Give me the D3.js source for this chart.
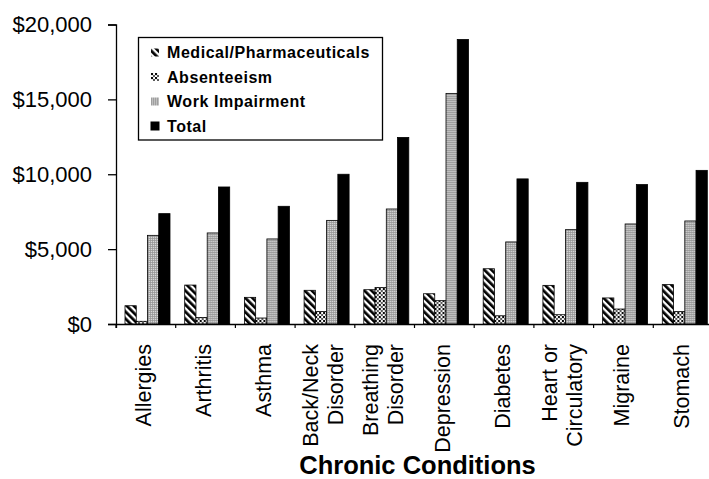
<!DOCTYPE html>
<html>
<head>
<meta charset="utf-8">
<script src="https://cdn.jsdelivr.net/npm/d3@7/dist/d3.min.js"></script>
<style>
  html, body { margin: 0; padding: 0; background: #fff; }
  svg { display: block; }
  text { font-family: "Liberation Sans", Arial, sans-serif; fill: #000; }
</style>
</head>
<body>
<svg id="chart" width="709" height="479"></svg>
<script>
// ---- data ----
const categories = ["Allergies", "Arthritis", "Asthma", "Back/Neck Disorder", "Breathing Disorder",
  "Depression", "Diabetes", "Heart or Circulatory", "Migraine", "Stomach"];
const categoryLines = [["Allergies"], ["Arthritis"], ["Asthma"], ["Back/Neck", "Disorder"], ["Breathing", "Disorder"],
  ["Depression"], ["Diabetes"], ["Heart or", "Circulatory"], ["Migraine"], ["Stomach"]];
const seriesNames = ["Medical/Pharmaceuticals", "Absenteeism", "Work Impairment", "Total"];
const medical     = [1220, 2600, 1780, 2250, 2290, 2020, 3690, 2580, 1740, 2630];
const absenteeism = [180, 440, 400, 840, 2440, 1560, 550, 620, 1000, 840];
const workImpair  = [5920, 6080, 5680, 6920, 7680, 15400, 5480, 6300, 6680, 6880];
const total       = [7370, 9150, 7860, 10000, 12460, 19000, 9690, 9460, 9310, 10260];
const yTicks = [0, 5000, 10000, 15000, 20000];
const xTitle = "Chronic Conditions";

const seriesValues = [medical, absenteeism, workImpair, total];

// ---- layout ----
const svg = d3.select("#chart");
const plotLeft = 116, plotBottom = 324, plotTop = 24.5, step = 59.7;

const x0 = d3.scaleBand().domain(categories).range([plotLeft, plotLeft + step * categories.length]).padding(0);
const x1 = d3.scaleBand().domain(seriesNames).range([9, 54]).padding(0);
const y = d3.scaleLinear().domain([0, 20000]).range([plotBottom, plotTop]);

// ---- patterns ----
const defs = svg.append("defs");
const pStripe = defs.append("pattern").attr("id", "pStripe").attr("patternUnits", "userSpaceOnUse")
  .attr("width", 5).attr("height", 5).attr("patternTransform", "rotate(-45)");
pStripe.append("rect").attr("width", 5).attr("height", 5).attr("fill", "#fff");
pStripe.append("rect").attr("width", 2.7).attr("height", 5).attr("fill", "#000");

const pDots = defs.append("pattern").attr("id", "pDots").attr("patternUnits", "userSpaceOnUse")
  .attr("width", 4).attr("height", 4);
pDots.append("rect").attr("width", 4).attr("height", 4).attr("fill", "#fff");
pDots.append("circle").attr("cx", 1).attr("cy", 1).attr("r", 1.2).attr("fill", "#000");
pDots.append("circle").attr("cx", 3).attr("cy", 3).attr("r", 1.0).attr("fill", "#222");

const pGrid = defs.append("pattern").attr("id", "pGrid").attr("patternUnits", "userSpaceOnUse")
  .attr("width", 2).attr("height", 2);
pGrid.append("rect").attr("width", 2).attr("height", 2).attr("fill", "#d8d8d8");
pGrid.append("rect").attr("width", 2).attr("height", 0.7).attr("fill", "#909090");
pGrid.append("rect").attr("width", 0.7).attr("height", 2).attr("fill", "#909090");

const fills = ["url(#pStripe)", "url(#pDots)", "url(#pGrid)", "#000"];

// ---- bars ----
const groups = svg.append("g").selectAll("g").data(categories).join("g")
  .attr("transform", d => `translate(${x0(d)},0)`);
groups.selectAll("rect").data((c, i) => seriesNames.map((s, j) => ({ s, j, v: seriesValues[j][i] })))
  .join("rect")
  .attr("x", d => x1(d.s))
  .attr("width", x1.bandwidth())
  .attr("y", d => y(d.v))
  .attr("height", d => y(0) - y(d.v))
  .attr("fill", d => fills[d.j])
  .attr("stroke", "#000").attr("stroke-width", 0.8);

// ---- axes ----
const yAxis = svg.append("g").attr("transform", `translate(${plotLeft},0)`)
  .call(d3.axisLeft(y).tickValues(yTicks).tickSize(8).tickPadding(16)
    .tickFormat(d => "$" + d3.format(",")(d)));
yAxis.select(".domain").attr("stroke", "#000").attr("stroke-width", 1.3);
yAxis.selectAll(".tick line").attr("stroke", "#000").attr("stroke-width", 1.3);
yAxis.selectAll("text").attr("font-size", 22).attr("font-family", "Liberation Sans, Arial, sans-serif").attr("fill", "#000");

const xAxis = svg.append("g").attr("transform", `translate(0,${plotBottom})`)
  .call(d3.axisBottom(x0).tickValues(categories).tickSize(4).tickFormat(""));
xAxis.select(".domain").attr("stroke", "#000").attr("stroke-width", 1.3);
// move ticks to band boundaries
xAxis.selectAll(".tick").attr("transform", d => `translate(${x0(d)},0)`);
xAxis.selectAll(".tick line").attr("stroke", "#000").attr("stroke-width", 1.2);

// category labels (rotated)
const labels = svg.append("g").selectAll("text").data(categories).join("text")
  .attr("transform", d => `translate(${x0(d) + x0.bandwidth() / 2 - 2},344) rotate(-90)`)
  .attr("text-anchor", "end")
  .attr("font-size", 21.5);
labels.each(function (d, i) {
  const lines = categoryLines[i];
  const n = lines.length;
  d3.select(this).selectAll("tspan").data(lines).join("tspan")
    .attr("x", 0)
    .attr("y", (l, k) => (k - (n - 1) / 2) * 25)
    .attr("dy", "0.35em")
    .text(l => l);
});

// x title
svg.append("text").attr("x", 417.5).attr("y", 473.5).attr("text-anchor", "middle")
  .attr("font-size", 25.5).attr("font-weight", "bold").text(xTitle);

// ---- legend ----
const legend = svg.append("g");
legend.append("rect").attr("x", 138.5).attr("y", 37.5).attr("width", 244).attr("height", 102.5)
  .attr("fill", "#fff").attr("stroke", "#000").attr("stroke-width", 1.3);
const items = legend.selectAll("g.item").data(seriesNames).join("g").attr("class", "item")
  .attr("transform", (d, i) => `translate(151,${52.5 + i * 24.5})`);
items.append("rect").attr("x", 0).attr("y", -4).attr("width", 8).attr("height", 8)
  .attr("fill", (d, i) => fills[i]).attr("stroke", (d, i) => i === 3 ? "#000" : "none");
items.append("text").attr("x", 16).attr("dy", "0.36em").attr("font-size", 16).attr("font-weight", "bold")
  .attr("letter-spacing", 0.55)
  .text(d => d);
</script>
</body>
</html>
